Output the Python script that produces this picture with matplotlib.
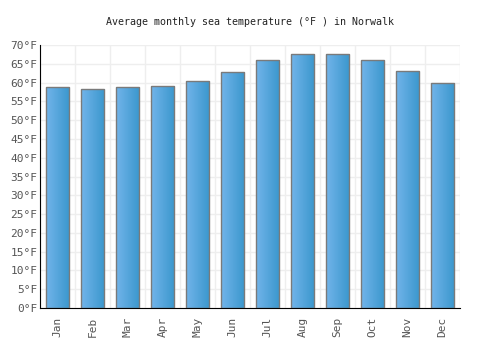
import numpy as np
import matplotlib.pyplot as plt
from matplotlib.colors import LinearSegmentedColormap

months = ["Jan", "Feb", "Mar", "Apr", "May", "Jun",
          "Jul", "Aug", "Sep", "Oct", "Nov", "Dec"]
temps_f = [58.7, 58.4, 58.7, 59.2, 60.5, 62.9,
           65.9, 67.5, 67.5, 65.9, 63.2, 60.0]
yticks = list(range(0, 75, 5))
ytick_labels = ["%d°F" % t for t in yticks]

plt.rcParams['font.family'] = ['DejaVu Sans Mono']

fig = plt.figure(figsize=(5, 3.5), dpi=100)
ax = fig.add_axes([0.08, 0.12, 0.84, 0.7514])

x = np.arange(len(months))
bars = ax.bar(x, temps_f, width=0.68, color='none', edgecolor='#7a7a7a',
              linewidth=1.0, zorder=3)

# horizontal gradient inside each bar
cmap = LinearSegmentedColormap.from_list('sea', ['#72b4ea', '#3a97cd'])
grad = np.linspace(0, 1, 64).reshape(1, -1)
for b in bars:
    bx, by = b.get_x(), b.get_y()
    bw, bh = b.get_width(), b.get_height()
    im = ax.imshow(grad, cmap=cmap, aspect='auto', zorder=2,
                   extent=[bx, bx + bw, by, by + bh], interpolation='bilinear')
    im.set_clip_path(b)

ax.set_xlim(-0.5, len(months) - 0.5)
ax.set_ylim(0, 70)
ax.set_yticks(yticks)
ax.set_yticklabels(ytick_labels)
ax.set_xticks(x)
ax.set_xticklabels(months, rotation=90)
ax.set_xticks(np.arange(-0.5, len(months), 1), minor=True)
ax.tick_params(axis='both', which='both', length=0, labelsize=8,
               colors='#555555')
ax.tick_params(axis='x', pad=6)
ax.tick_params(axis='y', pad=2)

ax.grid(axis='y', color='#eeeeee', linewidth=1, zorder=0)
ax.grid(axis='x', which='minor', color='#eeeeee', linewidth=1, zorder=0)
ax.grid(axis='x', which='major', visible=False)

for s in ['top', 'right']:
    ax.spines[s].set_visible(False)
ax.spines['left'].set_color('black')
ax.spines['bottom'].set_color('black')

fig.text(0.5, 0.937, "Average monthly sea temperature (°F ) in Norwalk",
         ha='center', va='center', fontsize=7.2, color='#222222')

fig.savefig('out.png', dpi=100)
